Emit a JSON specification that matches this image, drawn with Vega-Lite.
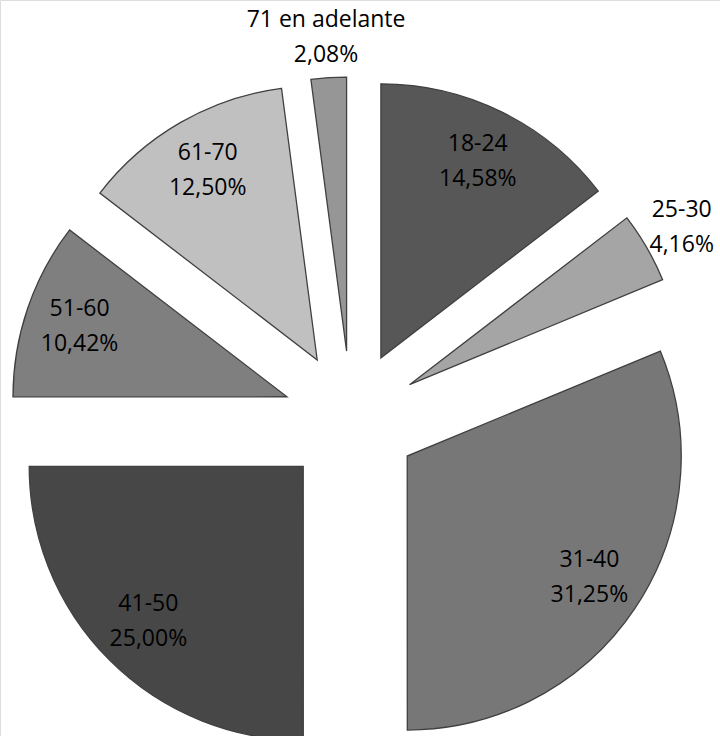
{
  "$schema": "https://vega.github.io/schema/vega-lite/v6.json",
  "width": 720,
  "height": 736,
  "autosize": {"type": "none"},
  "padding": 0,
  "background": "white",
  "data": {
    "values": [
      {"age": "18-24", "value": 14.58},
      {"age": "25-30", "value": 4.16},
      {"age": "31-40", "value": 31.25},
      {"age": "41-50", "value": 25.00},
      {"age": "51-60", "value": 10.42},
      {"age": "61-70", "value": 12.50},
      {"age": "71 en adelante", "value": 2.08}
    ]
  },
  "transform": [
    {"stack": "value", "groupby": [], "sort": [{"field": "age", "order": "ascending"}], "as": ["v0", "v1"]},
    {"calculate": "PI * (datum.v0 + datum.v1) / 99.99", "as": "mid"},
    {"calculate": "sin(datum.mid)", "as": "ex"},
    {"calculate": "cos(datum.mid)", "as": "ey"},
    {"calculate": "datum.value < 5 ? 5.65 : 4.24", "as": "lr"},
    {"calculate": "datum.ex * datum.lr", "as": "lx"},
    {"calculate": "datum.ey * datum.lr", "as": "ly"},
    {"calculate": "datum.age + '\\n' + replace(format(datum.value, '.2f'), '.', ',') + '%'", "as": "label"}
  ],
  "layer": [
    {
      "mark": {"type": "arc", "radius": 274, "stroke": "#404040", "strokeWidth": 1.3},
      "encoding": {
        "x": {"field": "ex", "type": "quantitative", "scale": {"domain": [-1, 1], "range": [283.4, 418.6]}, "axis": null},
        "y": {"field": "ey", "type": "quantitative", "scale": {"domain": [-1, 1], "range": [486.1, 350.9]}, "axis": null},
        "theta": {"field": "v0", "type": "quantitative", "stack": null, "scale": {"domain": [0, 99.99], "range": [0, 6.283185307179586]}},
        "theta2": {"field": "v1"},
        "color": {
          "field": "age",
          "type": "nominal",
          "legend": null,
          "scale": {
            "domain": ["18-24", "25-30", "31-40", "41-50", "51-60", "61-70", "71 en adelante"],
            "range": ["#575757", "#a5a5a5", "#777777", "#474747", "#7f7f7f", "#c0c0c0", "#969696"]
          }
        }
      }
    },
    {
      "mark": {"type": "text", "font": "Open Sans", "fontSize": 23, "lineHeight": 35, "lineBreak": "\n", "align": "center", "baseline": "middle", "dy": -17.5, "color": "black"},
      "encoding": {
        "x": {"field": "lx", "type": "quantitative"},
        "y": {"field": "ly", "type": "quantitative"},
        "text": {"field": "label"}
      }
    }
  ]
}
